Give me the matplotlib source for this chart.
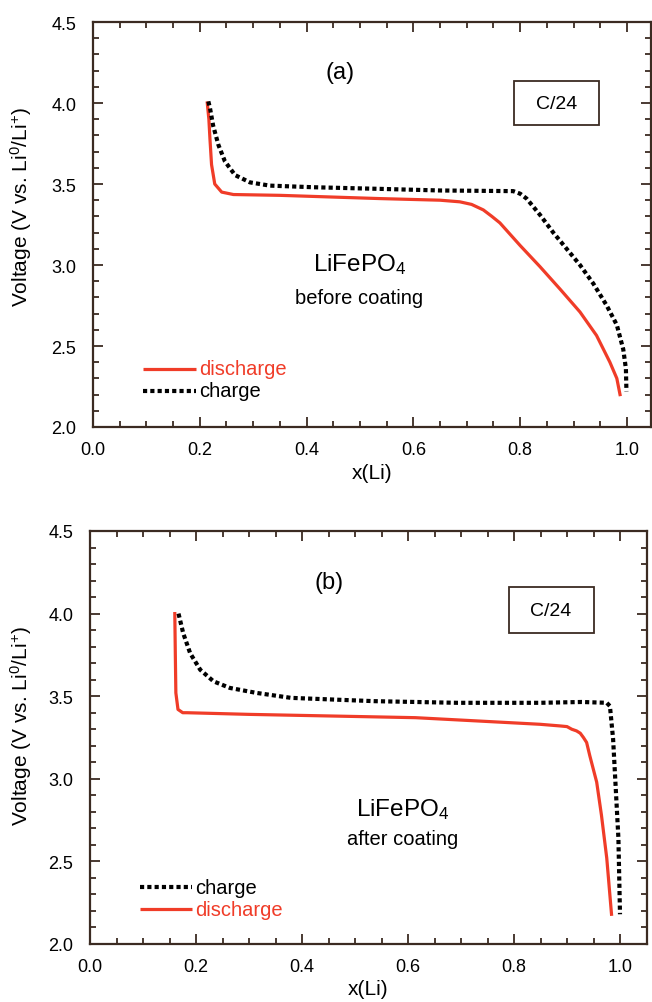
import numpy as np
import matplotlib
matplotlib.use("Agg")
from matplotlib import pyplot as plt
from matplotlib.ticker import MultipleLocator, FormatStrFormatter
from matplotlib.patches import Rectangle

plt.rcParams['font.family'] = ['Liberation Sans', 'DejaVu Sans']
plt.rcParams['mathtext.fontset'] = 'custom'
plt.rcParams['mathtext.rm'] = 'Liberation Sans'
plt.rcParams['mathtext.it'] = 'Liberation Sans'

# (a) before coating
a_dis_x = [0.214, 0.217, 0.219, 0.222, 0.228, 0.241, 0.263, 0.350, 0.537, 0.650, 0.687,
           0.709, 0.731, 0.747, 0.762, 0.800, 0.837, 0.875, 0.912, 0.943, 0.968, 0.981,
           0.987]
a_dis_v = [4.00, 3.90, 3.78, 3.62, 3.50, 3.45, 3.435, 3.43, 3.41, 3.40, 3.39,
           3.374, 3.34, 3.30, 3.26, 3.12, 2.99, 2.85, 2.71, 2.565, 2.40, 2.30,
           2.20]
a_chg_x = [0.216, 0.219, 0.225, 0.235, 0.247, 0.266, 0.294, 0.331, 0.413, 0.537, 0.650,
           0.787, 0.800, 0.812, 0.837, 0.862, 0.887, 0.912, 0.937, 0.962, 0.981, 0.993,
           0.998, 0.999]
a_chg_v = [4.01, 3.97, 3.86, 3.74, 3.64, 3.555, 3.51, 3.49, 3.48, 3.47, 3.46,
           3.456, 3.44, 3.41, 3.31, 3.20, 3.10, 3.00, 2.885, 2.75, 2.63, 2.48,
           2.36, 2.22]

# (b) after coating
b_dis_x = [0.160, 0.161, 0.162, 0.166, 0.175, 0.183, 0.300, 0.457, 0.614, 0.732, 0.849,
           0.887, 0.900, 0.909, 0.918, 0.925, 0.931, 0.937, 0.943, 0.956, 0.965, 0.975,
           0.984]
b_dis_v = [4.00, 3.75, 3.52, 3.42, 3.40, 3.40, 3.39, 3.38, 3.37, 3.35, 3.33,
           3.32, 3.316, 3.30, 3.29, 3.276, 3.25, 3.22, 3.14, 2.98, 2.78, 2.52,
           2.18]
b_chg_x = [0.167, 0.176, 0.189, 0.208, 0.233, 0.264, 0.314, 0.379, 0.457, 0.536, 0.693,
           0.849, 0.928, 0.975, 0.981, 0.987, 0.992, 0.997, 1.000]
b_chg_v = [4.00, 3.88, 3.76, 3.66, 3.59, 3.55, 3.52, 3.49, 3.48, 3.47, 3.46,
           3.46, 3.465, 3.46, 3.44, 3.24, 2.94, 2.64, 2.18]

red = '#f03c28'
edge = '#3b2b22'
dot = (0, (1, 0.75))

fig = plt.figure(figsize=(6.52, 10.03), dpi=100)
ax1 = fig.add_axes([93 / 652, 1 - 428 / 1003, 558 / 652, 405 / 1003])
ax2 = fig.add_axes([90 / 652, 1 - 945 / 1003, 556.5 / 652, 413 / 1003])


def style(ax, xmax, ylab_y, xlab_y, ylab_x):
    ax.set_xlim(0, xmax)
    ax.set_ylim(2.0, 4.5)
    ax.xaxis.set_major_locator(MultipleLocator(0.2))
    ax.xaxis.set_minor_locator(MultipleLocator(0.05))
    ax.yaxis.set_major_locator(MultipleLocator(0.5))
    ax.yaxis.set_minor_locator(MultipleLocator(0.1))
    ax.xaxis.set_major_formatter(FormatStrFormatter('%.1f'))
    ax.yaxis.set_major_formatter(FormatStrFormatter('%.1f'))
    ax.tick_params(which='both', direction='in', top=True, right=True, color=edge,
                   width=1.3, labelsize=13)
    ax.tick_params(axis='x', pad=10)
    ax.tick_params(axis='y', pad=12)
    ax.tick_params(which='major', length=7)
    ax.tick_params(which='minor', length=4)
    for s in ax.spines.values():
        s.set_color(edge)
        s.set_linewidth(1.6)
    ax.set_xlabel('x(Li)', fontsize=15)
    ax.set_ylabel('Voltage (V vs. Li$^{0}$/Li$^{+}$)', fontsize=15)
    ax.xaxis.set_label_coords(0.5, xlab_y)
    ax.yaxis.set_label_coords(ylab_x, ylab_y)


def legend_row(ax, y, label, color, ls, lw):
    ax.plot([0.094, 0.192], [y, y], color=color, linestyle=ls, linewidth=lw,
            solid_capstyle='butt', dash_capstyle='butt')
    ax.text(0.199, y, label, color=color, fontsize=14.5, va='center', ha='left')


def c24(ax, x0, x1, y0, y1):
    ax.add_patch(Rectangle((x0, y0), x1 - x0, y1 - y0, fill=False, ec=edge, lw=1.3))
    ax.text((x0 + x1) / 2, (y0 + y1) / 2, 'C/24', fontsize=14, ha='center', va='center')


# top panel
style(ax1, 1.045, 0.545, -0.088, -0.105)
ax1.plot(a_dis_x, a_dis_v, color=red, linewidth=2.3)
ax1.plot(a_chg_x, a_chg_v, color='black', linestyle=dot, linewidth=3, dash_capstyle='butt')
ax1.text(0.463, 4.19, '(a)', fontsize=17, ha='center', va='center')
c24(ax1, 0.788, 0.948, 3.863, 4.135)
ax1.text(0.499, 3.01, 'LiFePO$_4$', fontsize=17.5, ha='center', va='center')
ax1.text(0.499, 2.80, 'before coating', fontsize=14.5, ha='center', va='center')
legend_row(ax1, 2.36, 'discharge', red, '-', 2.3)
legend_row(ax1, 2.225, 'charge', 'black', dot, 3)

# bottom panel
style(ax2, 1.05, 0.53, -0.085, -0.1)
ax2.plot(b_dis_x, b_dis_v, color=red, linewidth=2.3)
ax2.plot(b_chg_x, b_chg_v, color='black', linestyle=dot, linewidth=3, dash_capstyle='butt')
ax2.text(0.451, 4.19, '(b)', fontsize=17, ha='center', va='center')
c24(ax2, 0.79, 0.95, 3.88, 4.16)
ax2.text(0.59, 2.82, 'LiFePO$_4$', fontsize=17.5, ha='center', va='center')
ax2.text(0.59, 2.64, 'after coating', fontsize=14.5, ha='center', va='center')
legend_row(ax2, 2.345, 'charge', 'black', dot, 3)
legend_row(ax2, 2.21, 'discharge', red, '-', 2.3)

plt.savefig('out.png', dpi=100)
